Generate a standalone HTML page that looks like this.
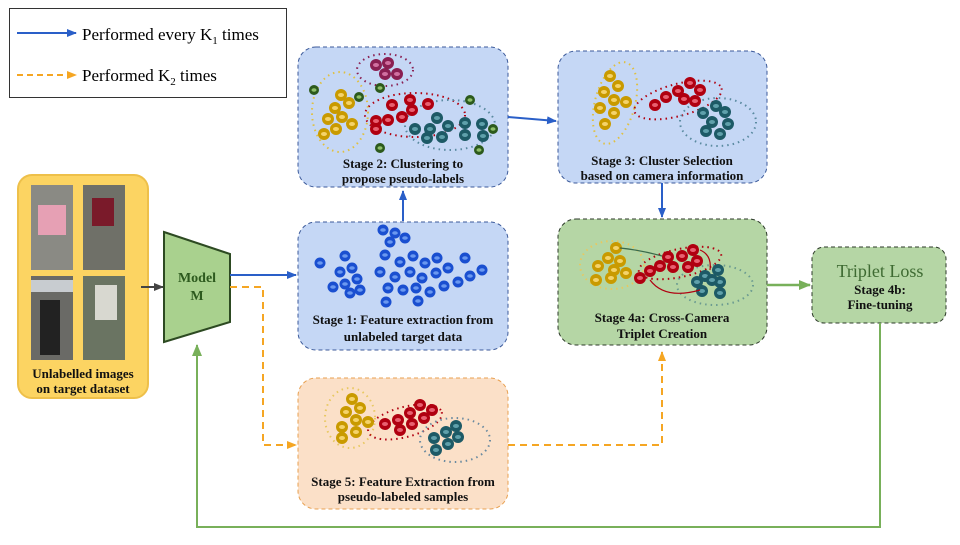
<!DOCTYPE html>
<html><head><meta charset="utf-8"><style>
body{margin:0;background:#fff;width:960px;height:540px;overflow:hidden}
text{font-family:"Liberation Serif",serif}
.b{font-weight:bold;font-size:13px;fill:#111}
</style></head><body>
<svg width="960" height="540" viewBox="0 0 960 540">
<defs>
<marker id="ab" markerWidth="10" markerHeight="10" refX="9" refY="5" orient="auto" markerUnits="userSpaceOnUse"><path d="M0,1 L10,5 L0,9z" fill="#2a5fc8"/></marker>
<marker id="ao" markerWidth="10" markerHeight="10" refX="9" refY="5" orient="auto" markerUnits="userSpaceOnUse"><path d="M0,1 L10,5 L0,9z" fill="#f5a623"/></marker>
<marker id="ag" markerWidth="12" markerHeight="12" refX="11" refY="6" orient="auto" markerUnits="userSpaceOnUse"><path d="M0,1 L12,6 L0,11z" fill="#78b05a"/></marker>
<marker id="ak" markerWidth="10" markerHeight="10" refX="9" refY="5" orient="auto" markerUnits="userSpaceOnUse"><path d="M0,1 L10,5 L0,9z" fill="#444"/></marker>
<g id="dy"><circle r="6" fill="#c99a00"/><ellipse rx="3" ry="2" fill="#f5d36a"/></g>
<g id="dr"><circle r="6" fill="#b00010"/><ellipse rx="3" ry="2" fill="#e86070"/></g>
<g id="dt"><circle r="6" fill="#1d5a66"/><ellipse rx="3" ry="2" fill="#5fa0ab"/></g>
<g id="dg"><circle r="5" fill="#2c5a1c"/><ellipse rx="2.5" ry="1.8" fill="#8ebf6a"/></g>
<g id="dm"><circle r="6" fill="#8a1f52"/><ellipse rx="3" ry="2" fill="#d070a0"/></g>
<g id="db"><circle r="5.5" fill="#1a4fd0"/><ellipse rx="2.8" ry="1.8" fill="#6a98f0"/></g>
</defs>

<!-- legend -->
<rect x="9.5" y="8.5" width="277" height="89" fill="#fff" stroke="#333"/>
<line x1="17" y1="33" x2="76" y2="33" stroke="#2a5fc8" stroke-width="2" marker-end="url(#ab)"/>
<text x="82" y="40" font-size="17">Performed every K<tspan font-size="11" dy="4">1</tspan><tspan dy="-4"> times</tspan></text>
<line x1="17" y1="75" x2="76" y2="75" stroke="#f5a623" stroke-width="2" stroke-dasharray="6,4" marker-end="url(#ao)"/>
<text x="82" y="81" font-size="17">Performed K<tspan font-size="11" dy="4">2</tspan><tspan dy="-4"> times</tspan></text>

<!-- yellow box -->
<rect x="18" y="175" width="130" height="223" rx="14" fill="#fcd462" stroke="#eec04a" stroke-width="2"/>
<rect x="31" y="185" width="42" height="85" fill="#8a8a84"/>
<rect x="38" y="205" width="28" height="30" fill="#e6a0b4"/>
<rect x="83" y="185" width="42" height="85" fill="#6f7068"/>
<rect x="92" y="198" width="22" height="28" fill="#7a1a2a"/>
<rect x="31" y="276" width="42" height="84" fill="#6a6a66"/>
<rect x="31" y="280" width="42" height="12" fill="#c8ccd0"/>
<rect x="40" y="300" width="20" height="55" fill="#222"/>
<rect x="83" y="276" width="42" height="84" fill="#6a7462"/>
<rect x="95" y="285" width="22" height="35" fill="#d8d8d0"/>
<text class="b" x="83" y="378" text-anchor="middle">Unlabelled images</text>
<text class="b" x="83" y="393" text-anchor="middle">on target dataset</text>
<line x1="141" y1="287" x2="163" y2="287" stroke="#444" stroke-width="2" marker-end="url(#ak)"/>

<!-- model -->
<polygon points="164,232 230,254 230,322 164,342" fill="#a9d18e" stroke="#2d4a22" stroke-width="2"/>
<text x="197" y="282" font-size="14" font-weight="bold" fill="#2d5a1e" text-anchor="middle">Model</text>
<text x="197" y="300" font-size="14" font-weight="bold" fill="#2d5a1e" text-anchor="middle">M</text>

<line x1="230" y1="275" x2="296" y2="275" stroke="#2a5fc8" stroke-width="2" marker-end="url(#ab)"/>
<polyline points="230,287 263,287 263,445 296,445" fill="none" stroke="#f5a623" stroke-width="2" stroke-dasharray="7,5" marker-end="url(#ao)"/>

<!-- stage 1 -->
<rect x="298" y="222" width="210" height="128" rx="18" fill="#c5d7f5" stroke="#3c5a9a" stroke-dasharray="4,3"/>
<g>
<use href="#db" x="383" y="230"/><use href="#db" x="395" y="233"/><use href="#db" x="405" y="238"/><use href="#db" x="390" y="242"/>
<use href="#db" x="320" y="263"/><use href="#db" x="345" y="256"/><use href="#db" x="352" y="268"/><use href="#db" x="340" y="272"/><use href="#db" x="357" y="279"/><use href="#db" x="345" y="284"/><use href="#db" x="333" y="287"/><use href="#db" x="350" y="293"/><use href="#db" x="360" y="290"/>
<use href="#db" x="385" y="255"/><use href="#db" x="400" y="262"/><use href="#db" x="413" y="256"/><use href="#db" x="425" y="263"/><use href="#db" x="437" y="258"/><use href="#db" x="380" y="272"/><use href="#db" x="395" y="277"/><use href="#db" x="410" y="272"/><use href="#db" x="422" y="278"/><use href="#db" x="436" y="273"/><use href="#db" x="448" y="268"/>
<use href="#db" x="388" y="288"/><use href="#db" x="403" y="290"/><use href="#db" x="416" y="288"/><use href="#db" x="430" y="292"/><use href="#db" x="444" y="286"/><use href="#db" x="458" y="282"/><use href="#db" x="470" y="276"/><use href="#db" x="482" y="270"/><use href="#db" x="465" y="258"/><use href="#db" x="386" y="302"/><use href="#db" x="418" y="301"/>
</g>
<text class="b" x="403" y="324" text-anchor="middle">Stage 1: Feature extraction from</text>
<text class="b" x="403" y="341" text-anchor="middle">unlabeled target data</text>
<line x1="403" y1="221" x2="403" y2="191" stroke="#2a5fc8" stroke-width="2" marker-end="url(#ab)"/>

<!-- stage 2 -->
<rect x="298" y="47" width="210" height="140" rx="18" fill="#c5d7f5" stroke="#3c5a9a" stroke-dasharray="4,3"/>
<ellipse cx="340" cy="112" rx="28" ry="40" fill="none" stroke="#e0c040" stroke-dasharray="1.5,4" stroke-width="2"/>
<ellipse cx="385" cy="70" rx="28" ry="16" fill="none" stroke="#8a1f52" stroke-dasharray="1.5,4" stroke-width="2"/>
<ellipse cx="415" cy="115" rx="50" ry="22" fill="none" stroke="#b00010" stroke-dasharray="1.5,4" stroke-width="2"/>
<ellipse cx="450" cy="125" rx="45" ry="25" fill="none" stroke="#5a8aa0" stroke-dasharray="1.5,4" stroke-width="2"/>
<use href="#dm" x="376" y="65"/><use href="#dm" x="388" y="63"/><use href="#dm" x="385" y="74"/><use href="#dm" x="397" y="74"/>
<use href="#dy" x="341" y="95"/><use href="#dy" x="349" y="103"/><use href="#dy" x="335" y="108"/><use href="#dy" x="342" y="117"/><use href="#dy" x="328" y="119"/><use href="#dy" x="352" y="124"/><use href="#dy" x="336" y="129"/><use href="#dy" x="324" y="134"/>
<use href="#dr" x="410" y="100"/><use href="#dr" x="392" y="105"/><use href="#dr" x="412" y="110"/><use href="#dr" x="428" y="104"/><use href="#dr" x="402" y="117"/><use href="#dr" x="388" y="120"/><use href="#dr" x="376" y="121"/><use href="#dr" x="376" y="129"/>
<use href="#dt" x="437" y="118"/><use href="#dt" x="448" y="126"/><use href="#dt" x="465" y="123"/><use href="#dt" x="415" y="129"/><use href="#dt" x="430" y="129"/><use href="#dt" x="442" y="137"/><use href="#dt" x="427" y="138"/><use href="#dt" x="465" y="135"/><use href="#dt" x="482" y="124"/><use href="#dt" x="483" y="136"/>
<use href="#dg" x="314" y="90"/><use href="#dg" x="380" y="88"/><use href="#dg" x="359" y="97"/><use href="#dg" x="470" y="100"/><use href="#dg" x="493" y="129"/><use href="#dg" x="479" y="150"/><use href="#dg" x="380" y="148"/>
<text class="b" x="403" y="168" text-anchor="middle">Stage 2: Clustering to</text>
<text class="b" x="403" y="183" text-anchor="middle">propose pseudo-labels</text>
<line x1="508" y1="117" x2="556" y2="121" stroke="#2a5fc8" stroke-width="2" marker-end="url(#ab)"/>

<!-- stage 3 -->
<rect x="558" y="51" width="209" height="132" rx="18" fill="#c5d7f5" stroke="#3c5a9a" stroke-dasharray="4,3"/>
<ellipse cx="615" cy="103" rx="20" ry="42" transform="rotate(15 615 103)" fill="none" stroke="#e0c040" stroke-dasharray="1.5,4" stroke-width="2"/>
<ellipse cx="678" cy="100" rx="45" ry="16" transform="rotate(-15 678 100)" fill="none" stroke="#b00010" stroke-dasharray="1.5,4" stroke-width="2"/>
<ellipse cx="718" cy="122" rx="38" ry="24" fill="none" stroke="#5a8aa0" stroke-dasharray="1.5,4" stroke-width="2"/>
<use href="#dy" x="610" y="76"/><use href="#dy" x="618" y="86"/><use href="#dy" x="604" y="92"/><use href="#dy" x="614" y="100"/><use href="#dy" x="626" y="102"/><use href="#dy" x="600" y="108"/><use href="#dy" x="614" y="113"/><use href="#dy" x="605" y="124"/>
<use href="#dr" x="690" y="83"/><use href="#dr" x="700" y="90"/><use href="#dr" x="678" y="91"/><use href="#dr" x="666" y="97"/><use href="#dr" x="684" y="99"/><use href="#dr" x="695" y="101"/><use href="#dr" x="655" y="105"/>
<use href="#dt" x="716" y="106"/><use href="#dt" x="703" y="113"/><use href="#dt" x="725" y="112"/><use href="#dt" x="712" y="122"/><use href="#dt" x="728" y="124"/><use href="#dt" x="706" y="131"/><use href="#dt" x="720" y="134"/>
<text class="b" x="662" y="165" text-anchor="middle">Stage 3: Cluster Selection</text>
<text class="b" x="662" y="180" text-anchor="middle">based on camera information</text>
<line x1="662" y1="183" x2="662" y2="217" stroke="#2a5fc8" stroke-width="2" marker-end="url(#ab)"/>

<!-- stage 4a -->
<rect x="558" y="219" width="209" height="126" rx="18" fill="#b5d6a5" stroke="#2d3a2a" stroke-dasharray="4,3"/>
<ellipse cx="612" cy="265" rx="32" ry="24" fill="none" stroke="#e8c860" stroke-dasharray="1.5,4" stroke-width="2"/>
<ellipse cx="680" cy="263" rx="42" ry="14" transform="rotate(-12 680 263)" fill="none" stroke="#b00010" stroke-dasharray="1.5,4" stroke-width="2"/>
<ellipse cx="715" cy="285" rx="38" ry="20" fill="none" stroke="#6a9a90" stroke-dasharray="1.5,4" stroke-width="2"/>
<use href="#dy" x="616" y="248"/><use href="#dy" x="608" y="258"/><use href="#dy" x="620" y="261"/><use href="#dy" x="598" y="266"/><use href="#dy" x="614" y="270"/><use href="#dy" x="626" y="273"/><use href="#dy" x="611" y="278"/><use href="#dy" x="596" y="280"/>
<use href="#dr" x="668" y="257"/><use href="#dr" x="682" y="256"/><use href="#dr" x="693" y="250"/><use href="#dr" x="697" y="261"/><use href="#dr" x="660" y="266"/><use href="#dr" x="673" y="267"/><use href="#dr" x="688" y="267"/><use href="#dr" x="650" y="271"/><use href="#dr" x="640" y="278"/>
<use href="#dt" x="718" y="270"/><use href="#dt" x="705" y="276"/><use href="#dt" x="720" y="282"/><use href="#dt" x="712" y="280"/><use href="#dt" x="697" y="282"/><use href="#dt" x="702" y="291"/><use href="#dt" x="720" y="293"/>
<path d="M620,248 Q640,250 662,256" fill="none" stroke="#3a6a4a" stroke-width="1.2"/>
<path d="M650,280 Q665,300 700,290" fill="none" stroke="#b00010" stroke-width="1.2"/>
<path d="M700,250 Q712,255 710,270" fill="none" stroke="#b00010" stroke-width="1.2"/>
<text class="b" x="662" y="322" text-anchor="middle">Stage 4a: Cross-Camera</text>
<text class="b" x="662" y="338" text-anchor="middle">Triplet Creation</text>
<line x1="767" y1="285" x2="810" y2="285" stroke="#78b05a" stroke-width="2.5" marker-end="url(#ag)"/>

<!-- stage 4b -->
<rect x="812" y="247" width="134" height="76" rx="12" fill="#b5d6a5" stroke="#2d3a2a" stroke-dasharray="4,3"/>
<text x="880" y="277" font-size="18" fill="#3e6a32" text-anchor="middle">Triplet Loss</text>
<text class="b" x="880" y="294" text-anchor="middle">Stage 4b:</text>
<text class="b" x="880" y="309" text-anchor="middle">Fine-tuning</text>
<polyline points="880,323 880,527 197,527 197,345" fill="none" stroke="#78b05a" stroke-width="2" marker-end="url(#ag)"/>

<!-- stage 5 -->
<rect x="298" y="378" width="210" height="131" rx="18" fill="#fbe0c8" stroke="#e8a050" stroke-dasharray="4,3"/>
<ellipse cx="350" cy="418" rx="25" ry="30" fill="none" stroke="#e8c860" stroke-dasharray="1.5,4" stroke-width="2"/>
<ellipse cx="405" cy="422" rx="38" ry="15" transform="rotate(-15 405 422)" fill="none" stroke="#b00010" stroke-dasharray="1.5,4" stroke-width="2"/>
<ellipse cx="455" cy="440" rx="35" ry="22" fill="none" stroke="#6a8aa0" stroke-dasharray="1.5,4" stroke-width="2"/>
<use href="#dy" x="352" y="399"/><use href="#dy" x="360" y="408"/><use href="#dy" x="346" y="412"/><use href="#dy" x="356" y="420"/><use href="#dy" x="368" y="422"/><use href="#dy" x="342" y="427"/><use href="#dy" x="356" y="432"/><use href="#dy" x="342" y="438"/>
<use href="#dr" x="420" y="405"/><use href="#dr" x="432" y="410"/><use href="#dr" x="410" y="413"/><use href="#dr" x="424" y="418"/><use href="#dr" x="398" y="420"/><use href="#dr" x="385" y="424"/><use href="#dr" x="412" y="424"/><use href="#dr" x="400" y="430"/>
<use href="#dt" x="456" y="426"/><use href="#dt" x="446" y="432"/><use href="#dt" x="458" y="437"/><use href="#dt" x="434" y="438"/><use href="#dt" x="448" y="444"/><use href="#dt" x="436" y="450"/>
<text class="b" x="403" y="486" text-anchor="middle">Stage 5: Feature Extraction from</text>
<text class="b" x="403" y="501" text-anchor="middle">pseudo-labeled samples</text>
<polyline points="508,445 662,445 662,352" fill="none" stroke="#f5a623" stroke-width="2" stroke-dasharray="7,5" marker-end="url(#ao)"/>
</svg>
</body></html>
